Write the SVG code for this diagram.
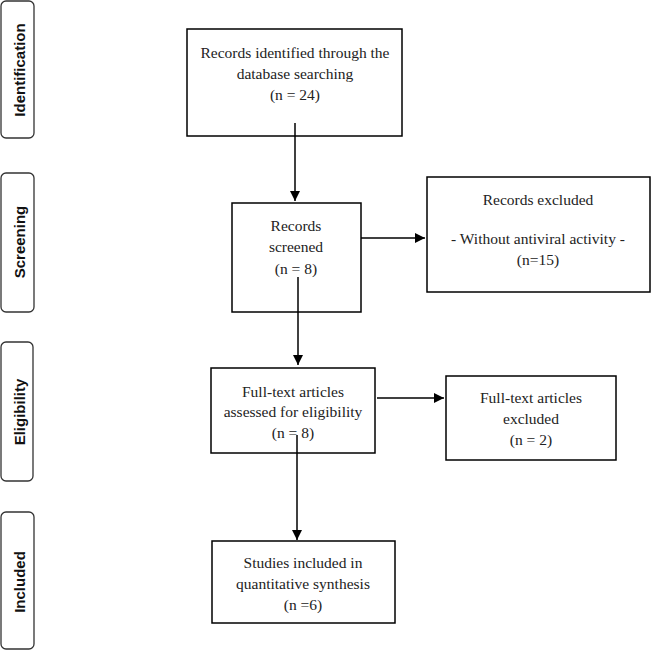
<svg xmlns="http://www.w3.org/2000/svg" width="652" height="652" viewBox="0 0 652 652">
<defs>
<marker id="ah" viewBox="0 0 10 10" refX="10" refY="5" markerWidth="10" markerHeight="10" markerUnits="userSpaceOnUse" orient="auto">
<path d="M0,0 L10,5 L0,10 z" fill="#000"/>
</marker>
<style>
.stage{fill:#fff;stroke:#333;stroke-width:1.3}
.stl{font-family:"Liberation Sans",Arial,sans-serif;font-weight:bold;font-size:15px;fill:#111;text-anchor:middle;dominant-baseline:central}
.box{fill:#fff;stroke:#000;stroke-width:1.5}
.t{font-family:"Liberation Serif","Times New Roman",serif;font-size:15.5px;fill:#222;text-anchor:middle;dominant-baseline:central}
.c{stroke:#000;stroke-width:1.5;fill:none;marker-end:url(#ah)}
</style>
</defs>
<rect width="652" height="652" fill="#fff"/>
<g id="stage-identification">
<rect class="stage" x="1" y="1" width="33" height="137" rx="5"/>
<text class="stl" transform="translate(19,70) rotate(-90)">Identification</text>
</g>
<g id="stage-screening">
<rect class="stage" x="1" y="173" width="33" height="139" rx="5"/>
<text class="stl" transform="translate(19,242) rotate(-90)">Screening</text>
</g>
<g id="stage-eligibility">
<rect class="stage" x="1" y="342" width="32" height="139" rx="5"/>
<text class="stl" transform="translate(19,412) rotate(-90)">Eligibility</text>
</g>
<g id="stage-included">
<rect class="stage" x="1" y="512" width="33" height="137" rx="5"/>
<text class="stl" transform="translate(19,582) rotate(-90)">Included</text>
</g>
<g id="identified">
<rect class="box" x="187" y="29" width="215" height="107"/>
<text class="t" x="295" y="52">Records identified through the</text>
<text class="t" x="295" y="73">database searching</text>
<text class="t" x="295" y="94">(n = 24)</text>
</g>
<g id="screened">
<rect class="box" x="232" y="203" width="129" height="109"/>
<text class="t" x="296" y="225">Records</text>
<text class="t" x="296" y="246">screened</text>
<text class="t" x="296" y="268">(n = 8)</text>
</g>
<g id="excluded1">
<rect class="box" x="427" y="177" width="223" height="115"/>
<text class="t" x="538" y="199">Records excluded</text>
<text class="t" x="538" y="238">- Without antiviral activity -</text>
<text class="t" x="538" y="259">(n=15)</text>
</g>
<g id="assessed">
<rect class="box" x="211" y="368" width="164" height="85"/>
<text class="t" x="293" y="391">Full-text articles</text>
<text class="t" x="293" y="411">assessed for eligibility</text>
<text class="t" x="293" y="432">(n = 8)</text>
</g>
<g id="excluded2">
<rect class="box" x="446" y="376" width="170" height="84"/>
<text class="t" x="531" y="397">Full-text articles</text>
<text class="t" x="531" y="418">excluded</text>
<text class="t" x="531" y="439">(n = 2)</text>
</g>
<g id="included">
<rect class="box" x="212" y="541" width="183" height="82"/>
<text class="t" x="303" y="562">Studies included in</text>
<text class="t" x="303" y="583">quantitative synthesis</text>
<text class="t" x="303" y="604">(n =6)</text>
</g>
<g id="connectors">
<line class="c" x1="295" y1="123" x2="295" y2="201"/>
<line class="c" x1="361" y1="238" x2="425" y2="238"/>
<line class="c" x1="298" y1="277" x2="298" y2="365"/>
<line class="c" x1="377" y1="398" x2="444" y2="398"/>
<line class="c" x1="297" y1="435" x2="297" y2="540"/>
</g>
</svg>
